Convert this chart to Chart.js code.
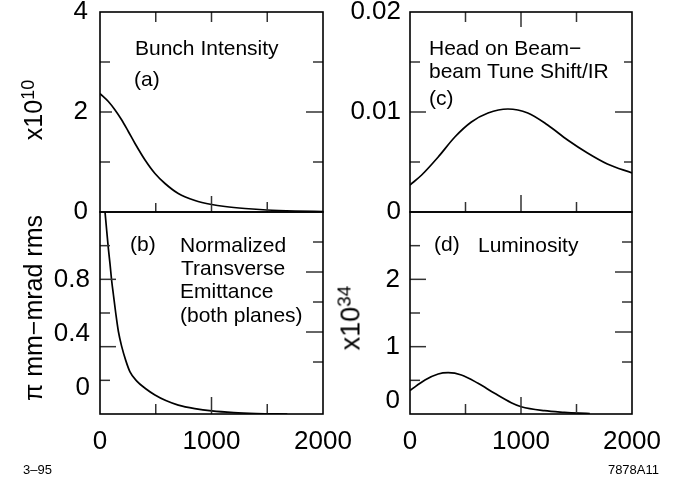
<!DOCTYPE html>
<html>
<head>
<meta charset="utf-8">
<script src="https://cdn.jsdelivr.net/npm/chart.js@4/dist/chart.umd.min.js"></script>
<style>
html,body{margin:0;padding:0;background:#fff;}
#wrap{position:relative;width:684px;height:489px;overflow:hidden;background:#fff;font-family:"Liberation Sans",Arial,Helvetica,sans-serif;color:#000;}
canvas{position:absolute;left:0;top:0;}
.t{position:absolute;white-space:nowrap;font-size:21px;line-height:24px;}
.rot{position:absolute;white-space:nowrap;font-size:25px;line-height:25px;transform:translate(-50%,-50%) rotate(-90deg);}
.rot sup{font-size:18px;position:relative;top:-0.45em;vertical-align:baseline;}
.foot{position:absolute;white-space:nowrap;font-size:13px;line-height:14px;font-family:"Liberation Sans Narrow","Liberation Sans",Arial,sans-serif;}
</style>
</head>
<body>
<div id="wrap">
  <canvas id="pa" width="684" height="489"></canvas>
  <canvas id="pb" width="684" height="489"></canvas>
  <canvas id="pc" width="684" height="489"></canvas>
  <canvas id="pd" width="684" height="489"></canvas>

  <div class="rot" style="left:35px;top:110px;">x10<sup>10</sup></div>
  <div class="rot" style="left:33px;top:308px;">π mm−mrad rms</div>
  <div class="rot" style="left:352px;top:318px;font-size:27px;">x10<sup style="font-size:19px;">34</sup></div>

  <div class="t" style="left:135px;top:36px;">Bunch Intensity</div>
  <div class="t" style="left:134px;top:67px;">(a)</div>

  <div class="t" style="left:130px;top:232px;">(b)</div>
  <div class="t" style="left:180px;top:233px;">Normalized</div>
  <div class="t" style="left:181px;top:256px;">Transverse</div>
  <div class="t" style="left:180px;top:279px;">Emittance</div>
  <div class="t" style="left:180px;top:303px;">(both planes)</div>

  <div class="t" style="left:429px;top:36px;">Head on Beam−</div>
  <div class="t" style="left:429px;top:59px;">beam Tune Shift/IR</div>
  <div class="t" style="left:429px;top:86px;">(c)</div>

  <div class="t" style="left:434px;top:232px;">(d)</div>
  <div class="t" style="left:478px;top:233px;">Luminosity</div>

  <div class="foot" style="left:23px;top:463px;">3–95</div>
  <div class="foot" style="right:25px;top:463px;">7878A11</div>
</div>
<script>
// ---- data ----
const timeTickLabels = ['0', '1000', '2000'];

const intensityX = [0, 75, 135, 195, 254, 314, 404, 493, 583, 702, 852, 1002, 1121, 1300, 1495, 1750, 2000];
const intensityY = [2.37, 2.21, 2.04, 1.84, 1.61, 1.37, 1.04, 0.77, 0.57, 0.37, 0.23, 0.15, 0.11, 0.07, 0.04, 0.02, 0.01];
const intensityTickLabels = ['0', '2', '4'];

const emittanceX = [45, 60, 74, 90, 105, 120, 141, 165, 195, 230, 269, 330, 404, 493, 590, 702, 850, 1002, 1200, 1400, 1680];
const emittanceY = [1.2, 1.09, 0.99, 0.89, 0.79, 0.71, 0.60, 0.49, 0.40, 0.32, 0.25, 0.195, 0.153, 0.113, 0.08, 0.053, 0.032, 0.018, 0.008, 0.003, 0.0];
const emittanceTickLabels = ['0', '0.4', '0.8'];

const tuneShiftX = [0, 105, 254, 404, 553, 703, 882, 1061, 1240, 1420, 1599, 1778, 2000];
const tuneShiftY = [0.0027, 0.0037, 0.0055, 0.0075, 0.0090, 0.0099, 0.0103, 0.0099, 0.0087, 0.0072, 0.0059, 0.0048, 0.0039];
const tuneShiftTickLabels = ['0', '0.01', '0.02'];

const luminosityX = [0, 135, 254, 344, 463, 613, 762, 912, 1002, 1211, 1390, 1530, 1620];
const luminosityY = [0.35, 0.505, 0.594, 0.613, 0.58, 0.456, 0.307, 0.168, 0.108, 0.049, 0.025, 0.012, 0.006];
const luminosityTickLabels = ['0', '1', '2'];

// ---- frame + inward tick marks drawn through the chart's scales ----
const framePlugin = {
  id: 'frame',
  afterDatasetsDraw(chart, args, o) {
    const {ctx, chartArea: a, scales} = chart;
    const xs = scales.x, ys = scales.y, yr = scales[o.rightScale || 'y'];
    ctx.save();
    ctx.lineCap = 'butt';
    ctx.strokeStyle = o.tickColor;
    ctx.lineWidth = o.tickWidth;
    const seg = (x1, y1, x2, y2) => { ctx.beginPath(); ctx.moveTo(x1, y1); ctx.lineTo(x2, y2); ctx.stroke(); };
    (o.left || []).forEach(([v, l]) => { const p = ys.getPixelForValue(v); seg(a.left, p, a.left + l, p); });
    (o.right || []).forEach(([v, l]) => { const p = yr.getPixelForValue(v); seg(a.right, p, a.right - l, p); });
    (o.top || []).forEach(([v, l]) => { const p = xs.getPixelForValue(v); seg(p, a.top, p, a.top + l); });
    (o.bottom || []).forEach(([v, l]) => { const p = xs.getPixelForValue(v); seg(p, a.bottom, p, a.bottom - l); });
    ctx.strokeStyle = o.frameColor;
    ctx.lineWidth = o.frameWidth;
    ctx.strokeRect(a.left, a.top, a.right - a.left, a.bottom - a.top);
    ctx.restore();
  }
};

const tickFont = {family: '"Liberation Sans", Arial, sans-serif', size: 26, lineHeight: 1};

function makePanel(id, p) {
  const raise = p.labelRaise || {};
  const scales = {
    x: {
      type: 'linear', min: 0, max: 2000, display: p.showX,
      afterBuildTicks: s => { s.ticks = timeTickLabels.map(t => ({value: +t})); },
      ticks: {font: tickFont, color: '#000', padding: 15, maxRotation: 0, autoSkip: false,
              callback: (v, i) => timeTickLabels[i]},
      grid: {display: false, drawTicks: false},
      border: {display: false},
      afterFit: s => { s.height = p.showX ? 40 : 0; s.paddingLeft = 0; s.paddingRight = 0; }
    },
    y: {
      type: 'linear', min: p.yMin, max: p.yMax, position: 'left',
      afterBuildTicks: s => { s.ticks = p.yLabels.map(t => ({value: +t})); },
      ticks: {font: tickFont, color: '#000', padding: p.labelPad, autoSkip: false,
               callback: (v, i) => {
                 const lab = p.yLabels[i];
                 const n = raise[lab] || 0;
                 return n ? [lab].concat(new Array(n).fill('')) : lab;
               }},
      grid: {display: false, drawTicks: false},
      border: {display: false},
      afterFit: s => { s.width = p.axisWidth; s.paddingTop = 0; s.paddingBottom = 0; }
    }
  };
  if (p.rightScale) {
    scales.yr = {type: 'linear', min: p.rightScale[0], max: p.rightScale[1], display: false, position: 'right'};
  }
  return new Chart(document.getElementById(id), {
    type: 'line',
    data: {
      datasets: [{
        data: p.xs.map((x, i) => ({x: x, y: p.ys[i]})),
        borderColor: '#000', borderWidth: 1.7, pointRadius: 0, fill: false,
        cubicInterpolationMode: 'monotone'
      }]
    },
    options: {
      responsive: false, animation: false, devicePixelRatio: 1,
      layout: {padding: p.padding},
      plugins: {
        legend: {display: false}, tooltip: {enabled: false},
        frame: Object.assign({tickColor: '#333', tickWidth: 1.5, frameColor: '#000', frameWidth: 1.6,
                              rightScale: p.rightScale ? 'yr' : 'y'}, p.frame)
      },
      scales: scales
    },
    plugins: [framePlugin]
  });
}

const xTicksTop = [[500, 10], [1000, 10], [1500, 10]];
const xTicksBottom = [[500, 10], [1000, 17], [1500, 10]];
const shiftedRight = [[1, 10], [2, 17], [3, 10], [4, 17], [5, 10]];

makePanel('pa', {
  xs: intensityX, ys: intensityY, yMin: 0, yMax: 4, yLabels: intensityTickLabels,
  showX: false, axisWidth: 100, labelPad: 12,
  padding: {left: 0, top: 12, right: 361, bottom: 277},
  frame: {left: [[1, 10], [2, 12], [3, 10]], right: [[1, 10], [2, 17], [3, 10]],
          top: xTicksTop, bottom: [[500, 9], [1000, 16], [1500, 10]]}
});
makePanel('pb', {
  xs: emittanceX, ys: emittanceY, yMin: 0, yMax: 1.2, yLabels: emittanceTickLabels,
  showX: true, axisWidth: 100, labelPad: 10, rightScale: [-0.733, 6],
  labelRaise: {'0': 2, '0.4': 1},
  padding: {left: 0, top: 212, right: 361, bottom: 35},
  frame: {left: [[0.2, 10], [0.4, 16], [0.6, 10], [0.8, 16], [1.0, 10]], right: shiftedRight,
          bottom: xTicksBottom}
});
makePanel('pc', {
  xs: tuneShiftX, ys: tuneShiftY, yMin: 0, yMax: 0.02, yLabels: tuneShiftTickLabels,
  showX: false, axisWidth: 410, labelPad: 9,
  padding: {left: 0, top: 12, right: 52, bottom: 277},
  frame: {left: [[0.005, 10], [0.01, 16], [0.015, 10]], right: [[0.005, 8], [0.01, 17], [0.015, 8]],
          top: [[500, 10], [1000, 15], [1500, 10]], bottom: xTicksBottom}
});
makePanel('pd', {
  xs: luminosityX, ys: luminosityY, yMin: 0, yMax: 3, yLabels: luminosityTickLabels,
  showX: true, axisWidth: 410, labelPad: 10, rightScale: [-0.733, 6],
  labelRaise: {'0': 1},
  padding: {left: 0, top: 212, right: 52, bottom: 35},
  frame: {left: [[0.5, 10], [1, 16], [1.5, 10], [2, 16], [2.5, 10]], right: shiftedRight,
          bottom: xTicksBottom}
});
</script>
</body>
</html>
